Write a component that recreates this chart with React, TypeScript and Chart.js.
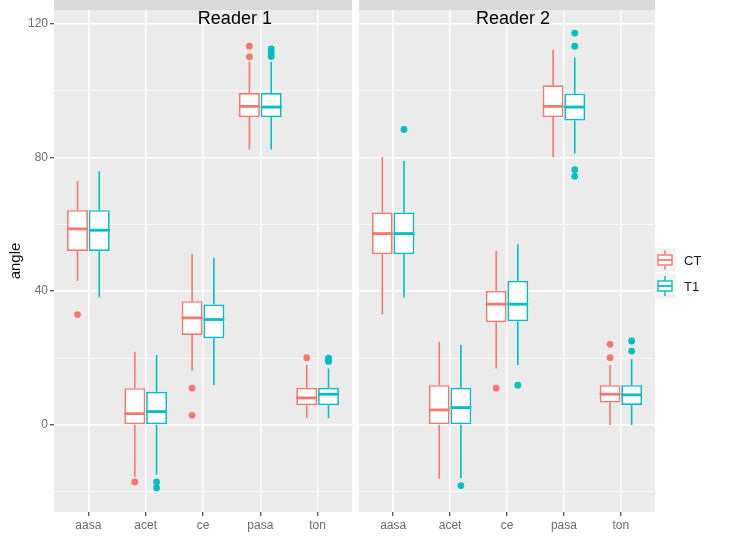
import React, { useEffect, useRef } from 'react';
import { Chart, registerables } from 'chart.js';

Chart.register(...registerables);

const categories = ['aasa', 'acet', 'ce', 'pasa', 'ton'];
const groups = ['CT', 'T1'];
const groupColors = ['#F8766D', '#00BFC4'];
const panelTitles = ['Reader 1', 'Reader 2'];
const yTicks = [-20, 0, 20, 40, 60, 80, 100, 120];
const yLabelled = [0, 40, 80, 120];

// each entry: [lower whisker, Q1, median, Q3, upper whisker]
const reader1CT = [[43, 52, 58.6, 64.2, 72.9], [-15.5, 0, 3.4, 11, 21.9], [16.2, 26.9, 32, 37, 51.2], [82.3, 92, 95.2, 99.2, 108.5], [2, 5.9, 8.1, 11.1, 17.9]];
const reader1CTOutliers = [[33], [-17], [11, 2.9], [110, 113.2], [20.1]];
const reader1T1 = [[38.1, 52, 58.2, 64.2, 75.8], [-14.9, 0, 4, 9.9, 20.9], [11.9, 25.9, 31.5, 36, 50], [82.3, 92, 95, 99.2, 108.5], [2, 5.9, 9.2, 11.1, 16.9]];
const reader1T1Outliers = [[], [-17, -18.8], [], [110.1, 111.4, 112.4], [19, 19.5, 20]];
const reader2CT = [[33.1, 51, 57.2, 63.5, 80.1], [-16.1, 0, 4.5, 11.9, 24.9], [16.9, 30.7, 36.1, 40.1, 52], [80.1, 92, 95.2, 101.5, 112.1], [0, 6.7, 9.2, 11.9, 17.9]];
const reader2CTOutliers = [[], [], [11], [], [20.1, 24.1]];
const reader2T1 = [[38.1, 51, 57.2, 63.5, 78.9], [-15.9, 0, 5.2, 11.1, 23.9], [17.9, 31, 36.1, 43.1, 54], [81.1, 91, 95, 99, 109.8], [0, 6, 9, 11.9, 19.7]];
const reader2T1Outliers = [[88.3], [-18.1], [11.9], [74.3, 76.3, 113.2, 117.1], [22.1, 25.1]];

const panelStats = [[reader1CT, reader1T1], [reader2CT, reader2T1]];
const panelOutliers = [[reader1CTOutliers, reader1T1Outliers], [reader2CTOutliers, reader2T1Outliers]];

const FONT = '"Liberation Sans", Arial, Helvetica, sans-serif';

const boxPlugin = {
  id: 'boxExtras',
  beforeDraw(chart: any) {
    const { ctx, chartArea: a } = chart;
    ctx.save();
    ctx.fillStyle = '#EBEBEB';
    ctx.fillRect(a.left, a.top, a.right - a.left, a.bottom - a.top);
    ctx.fillStyle = '#D9D9D9';
    ctx.fillRect(a.left, 0, a.right - a.left, a.top);
    ctx.restore();
  },
  afterDatasetsDraw(chart: any, _a: any, opts: any) {
    const { ctx, chartArea: a } = chart;
    const ys = chart.scales.y;
    ctx.save();
    chart.data.datasets.forEach((ds: any, di: number) => {
      const meta = chart.getDatasetMeta(di);
      meta.data.forEach((el: any, i: number) => {
        const s = ds.stats[i];
        const out = ds.outliers[i];
        const x = el.x;
        const w = el.width;
        ctx.strokeStyle = ds.borderColor;
        ctx.lineWidth = 1.6;
        ctx.beginPath();
        ctx.moveTo(x, ys.getPixelForValue(s[0]));
        ctx.lineTo(x, ys.getPixelForValue(s[1]));
        ctx.moveTo(x, ys.getPixelForValue(s[3]));
        ctx.lineTo(x, ys.getPixelForValue(s[4]));
        ctx.stroke();
        ctx.lineWidth = 2.8;
        ctx.beginPath();
        const my = ys.getPixelForValue(s[2]);
        ctx.moveTo(x - w / 2, my);
        ctx.lineTo(x + w / 2, my);
        ctx.stroke();
        ctx.fillStyle = ds.borderColor;
        out.forEach((v: number) => {
          ctx.beginPath();
          ctx.arc(x, ys.getPixelForValue(v), 3.4, 0, Math.PI * 2);
          ctx.fill();
        });
      });
    });
    // panel title
    ctx.fillStyle = '#000';
    ctx.font = `18px ${FONT}`;
    ctx.textAlign = 'center';
    ctx.textBaseline = 'middle';
    ctx.fillText(opts.title, a.left + opts.titlePos * (a.right - a.left), 19);
    // legend
    if (opts.legend) {
      const mid = (a.top + a.bottom) / 2;
      chart.data.datasets.forEach((ds: any, di: number) => {
        const cy = mid - 1 + di * 26;
        const kx = a.right + 10;
        ctx.fillStyle = '#F2F2F2';
        ctx.fillRect(kx - 11, cy - 12, 22, 24);
        ctx.strokeStyle = ds.borderColor;
        ctx.lineWidth = 1.4;
        ctx.beginPath();
        ctx.moveTo(kx, cy - 10);
        ctx.lineTo(kx, cy - 5);
        ctx.moveTo(kx, cy + 5);
        ctx.lineTo(kx, cy + 10);
        ctx.stroke();
        ctx.fillStyle = '#fff';
        ctx.fillRect(kx - 7, cy - 5, 14, 10);
        ctx.strokeRect(kx - 7, cy - 5, 14, 10);
        ctx.lineWidth = 1.8;
        ctx.beginPath();
        ctx.moveTo(kx - 7, cy);
        ctx.lineTo(kx + 7, cy);
        ctx.stroke();
        ctx.fillStyle = '#1a1a1a';
        ctx.font = `13px ${FONT}`;
        ctx.textAlign = 'left';
        ctx.fillText(ds.label, a.right + 29, cy + 1);
      });
    }
    ctx.restore();
  },
};

function makeConfig(p: number): any {
  const first = p === 0;
  const datasets = groups.map((g, gi) => ({
    type: 'bar',
    label: g,
    data: panelStats[p][gi].map((s, i) => ({ x: i, y: [s[1], s[3]] })),
    stats: panelStats[p][gi],
    outliers: panelOutliers[p][gi],
    backgroundColor: '#FFFFFF',
    borderColor: groupColors[gi],
    borderWidth: 1.7,
    borderSkipped: false,
    categoryPercentage: 0.76,
    barPercentage: 0.96,
  }));
  const isMajor = (v: number) => yLabelled.includes(v);
  return {
    type: 'bar',
    data: { datasets },
    plugins: [boxPlugin],
    options: {
      animation: false,
      responsive: false,
      events: [],
      layout: { padding: first ? { left: 0, right: 4, top: 10, bottom: 0 } : { left: 3, right: 78, top: 10, bottom: 0 } },
      plugins: {
        legend: { display: false },
        tooltip: { enabled: false },
        boxExtras: { title: panelTitles[p], titlePos: first ? 0.607 : 0.52, legend: !first },
      },
      scales: {
        x: {
          type: 'linear',
          min: -0.6,
          max: 4.6,
          offset: false,
          afterBuildTicks: (axis: any) => { axis.ticks = categories.map((_, i) => ({ value: i })); },
          afterFit: (axis: any) => { axis.height = 25; },
          ticks: {
            autoSkip: false,
            maxRotation: 0,
            padding: 2,
            color: '#6b6b6b',
            font: { size: 12, family: FONT },
            callback: (v: number) => categories[v] ?? '',
          },
          grid: { offset: false, color: '#FFFFFF', lineWidth: 1.4, tickColor: '#444', tickLength: 4, tickWidth: 1.2 },
          border: { display: false },
        },
        y: {
          type: 'linear',
          min: -26,
          max: 124,
          afterBuildTicks: (axis: any) => { axis.ticks = yTicks.map((v) => ({ value: v })); },
          afterFit: (axis: any) => { axis.width = first ? 54 : 0; },
          ticks: {
            display: first,
            autoSkip: false,
            padding: 2,
            color: '#6b6b6b',
            font: { size: 12, family: FONT },
            callback: (v: number) => (isMajor(v) ? String(v) : ''),
          },
          title: {
            display: first,
            text: 'angle',
            color: '#111',
            font: { size: 15, family: FONT },
            padding: { top: 7, bottom: 0 },
          },
          grid: {
            color: '#FFFFFF',
            lineWidth: (c: any) => (isMajor(c.tick?.value) ? 1.4 : 0.7),
            drawTicks: first,
            tickLength: 4,
            tickWidth: 1.2,
            tickColor: (c: any) => (isMajor(c.tick?.value) ? '#444' : 'rgba(0,0,0,0)'),
          },
          border: { display: false },
        },
      },
    },
  };
}

export default function App() {
  const ref1 = useRef<HTMLCanvasElement>(null);
  const ref2 = useRef<HTMLCanvasElement>(null);
  useEffect(() => {
    const c1 = new Chart(ref1.current as HTMLCanvasElement, makeConfig(0));
    const c2 = new Chart(ref2.current as HTMLCanvasElement, makeConfig(1));
    return () => { c1.destroy(); c2.destroy(); };
  }, []);
  return (
    <div style={{ position: 'fixed', left: 0, top: 0, width: 733, height: 537, background: '#fff' }}>
      <canvas ref={ref1} width={356} height={537} style={{ position: 'absolute', left: 0, top: 0, width: 356, height: 537 }} />
      <canvas ref={ref2} width={377} height={537} style={{ position: 'absolute', left: 356, top: 0, width: 377, height: 537 }} />
    </div>
  );
}
